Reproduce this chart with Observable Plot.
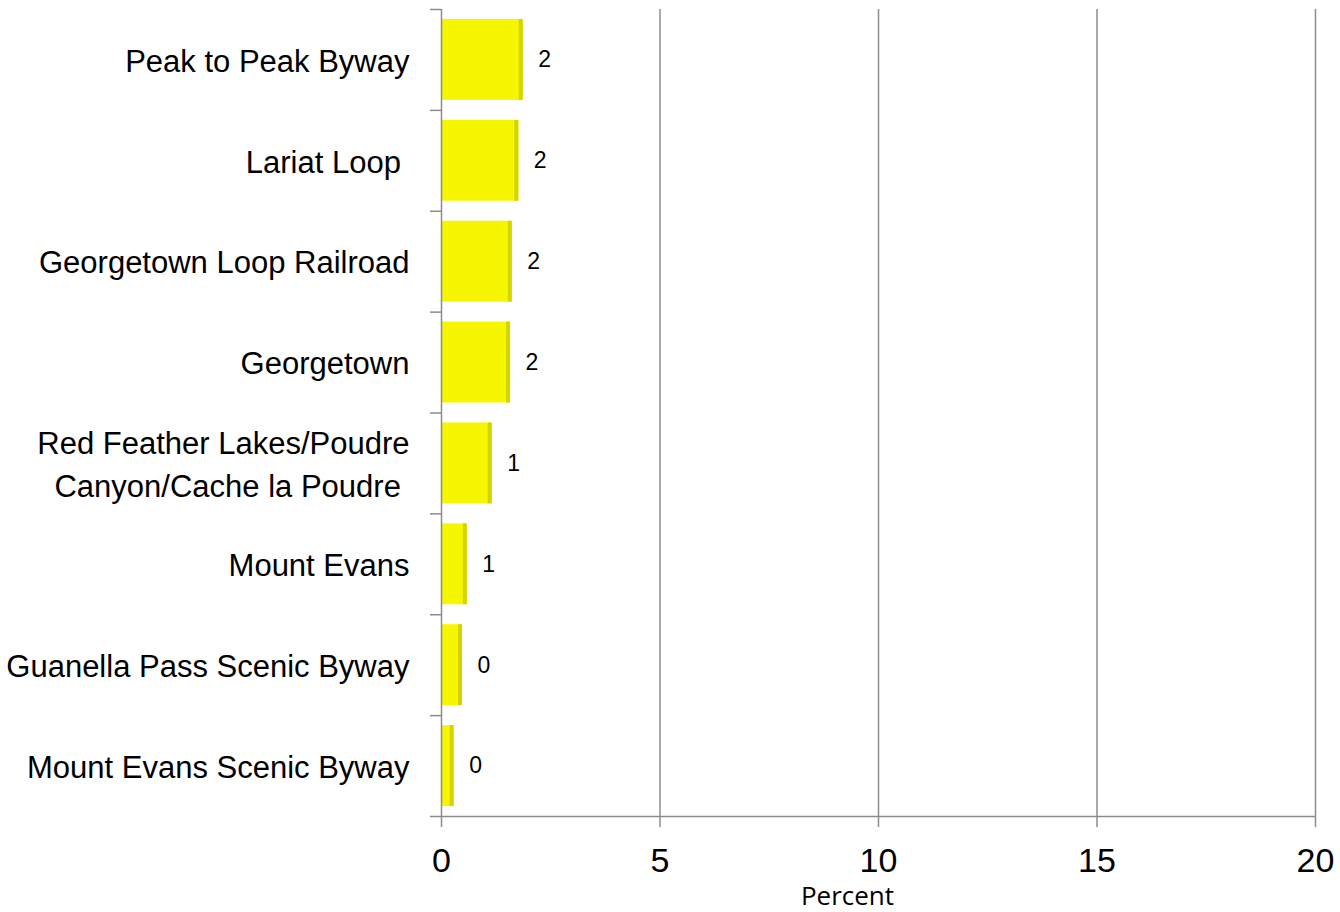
<!DOCTYPE html>
<html><head><meta charset="utf-8">
<script src="https://cdn.jsdelivr.net/npm/d3@7"></script>
<script src="https://cdn.jsdelivr.net/npm/@observablehq/plot@0.6"></script>
<style>
body{margin:0;background:#fff;}
#chart svg{display:block;}
g[aria-label="bars"] rect{filter: drop-shadow(1.5px 1.5px 1px rgba(0,0,0,0.35));}
</style></head><body><div id="chart"></div>
<script>
const categories = [
  "Peak to Peak Byway",
  "Lariat Loop\u00a0",
  "Georgetown Loop Railroad",
  "Georgetown",
  "Red Feather Lakes/Poudre\nCanyon/Cache la Poudre\u00a0",
  "Mount Evans",
  "Guanella Pass Scenic Byway",
  "Mount Evans Scenic Byway"
];
const values = [1.87, 1.77, 1.62, 1.58, 1.16, 0.59, 0.48, 0.29];
const valueLabels = ["2", "2", "2", "2", "1", "1", "0", "0"];
const xTicks = [0, 5, 10, 15, 20];
const xLabel = "Percent";

const data = categories.map((c, i) => ({category: c, value: values[i], label: valueLabels[i]}));
const W = 1340, H = 912, mt = 9, mb = 96, ml = 441, mr = 25;
const step = (H - mt - mb) / categories.length;
const grey = "#8c8c8c";

const plot = Plot.plot({
  width: W, height: H,
  marginTop: mt, marginBottom: mb, marginLeft: ml, marginRight: mr,
  style: {fontFamily: "'Liberation Sans', Arial, sans-serif", background: "#fff", color: "#000"},
  x: {domain: [0, 20], ticks: xTicks, label: null},
  y: {domain: categories, padding: 0, round: false, axis: null},
  marks: [
    Plot.gridX(xTicks.slice(1), {stroke: grey, strokeOpacity: 1, strokeWidth: 1.5}),
    Plot.barX(data, {y: "category", x: "value", fill: "#f6f600", insetTop: 10, insetBottom: 10, ariaLabel: "bars"}),
    Plot.barX(data, {y: "category", x1: "value", x2: "value", insetLeft: -4, insetTop: 10, insetBottom: 10, fill: "#d4d400"}),
    Plot.ruleX([0], {stroke: grey, strokeWidth: 1.5}),
    Plot.ruleY(categories, {dy: -step / 2, x1: 0, x2: 0, insetLeft: -11, stroke: grey, strokeWidth: 1.5}),
    Plot.ruleY([categories[categories.length - 1]], {dy: step / 2, x1: 0, x2: 20, insetLeft: -11, stroke: grey, strokeWidth: 1.5}),
    Plot.axisX({ticks: xTicks, label: null, tickSize: 11, tickPadding: 20, fontSize: 34, stroke: grey, strokeWidth: 1.5, fill: "#000"}),
    Plot.text(data, {y: "category", x: "value", text: "label", dx: 15, textAnchor: "start", fontSize: 23, fill: "#000"}),
    Plot.text(data, {y: "category", text: "category", frameAnchor: "left", textAnchor: "end", dx: -32, dy: -2, fontSize: 31, lineHeight: 1.39, fill: "#000"}),
    Plot.text([xLabel], {frameAnchor: "bottom", dx: -31, dy: 88, fontFamily: "'Open Sans', sans-serif", fontSize: 26, fill: "#000"})
  ]
});
document.getElementById("chart").append(plot);
</script>
</body></html>
